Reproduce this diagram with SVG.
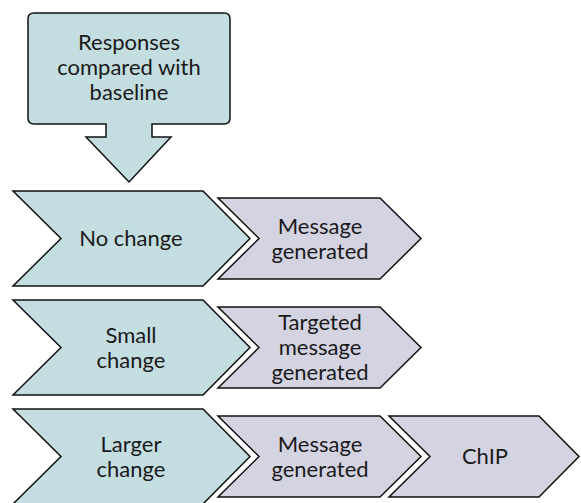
<svg xmlns="http://www.w3.org/2000/svg" width="581" height="503" viewBox="0 0 581 503">
  <style>
    .teal { fill: #c3dde0; stroke: #111; stroke-width: 1.5; stroke-linejoin: miter; }
    .purple { fill: #d4d3e2; stroke: #111; stroke-width: 1.5; stroke-linejoin: miter; }
    text { font-family: Lato, "Open Sans", "Liberation Sans", sans-serif; font-size: 22px; fill: #1a1a1a; text-anchor: middle; }
  </style>
  <rect width="581" height="503" fill="#ffffff"/>
  <g id="connectors"></g>
  <g id="callout">
    <path class="teal" d="M34,13 H224 Q230,13 230,19 V118 Q230,124 224,124 H152 V137 H171 L129,182 L86,137 H106 V124 H34 Q28,124 28,118 V19 Q28,13 34,13 Z"/>
    <text x="129" y="50">Responses</text>
    <text x="129" y="75">compared with</text>
    <text x="129" y="100">baseline</text>
  </g>
  <g id="no-change">
    <polygon class="teal" points="13,191 203,191 250,238.5 203,286 13,286 61,238.5"/>
    <text x="131" y="246">No change</text>
  </g>
  <g id="msg1">
    <polygon class="purple" points="218,198 380,198 421,238.5 380,279 218,279 259,238.5"/>
    <text x="320" y="233.5">Message</text>
    <text x="320" y="258.5">generated</text>
  </g>
  <g id="small-change">
    <polygon class="teal" points="13,300 203,300 250,347.5 203,395 13,395 61,347.5"/>
    <text x="131" y="342.5">Small</text>
    <text x="131" y="367.5">change</text>
  </g>
  <g id="targeted">
    <polygon class="purple" points="218,307 380,307 421,347.5 380,388 218,388 259,347.5"/>
    <text x="320" y="330">Targeted</text>
    <text x="320" y="355">message</text>
    <text x="320" y="380">generated</text>
  </g>
  <g id="larger-change">
    <polygon class="teal" points="13,409 203,409 250,456.5 203,504 13,504 61,456.5"/>
    <text x="131" y="451.5">Larger</text>
    <text x="131" y="476.5">change</text>
  </g>
  <g id="msg3">
    <polygon class="purple" points="218,416 380,416 421,456.5 380,497 218,497 259,456.5"/>
    <text x="320" y="451.5">Message</text>
    <text x="320" y="476.5">generated</text>
  </g>
  <g id="chip">
    <polygon class="purple" points="389,416 539,416 579,456.5 539,497 389,497 430,456.5"/>
    <text x="485" y="464">ChIP</text>
  </g>
</svg>
